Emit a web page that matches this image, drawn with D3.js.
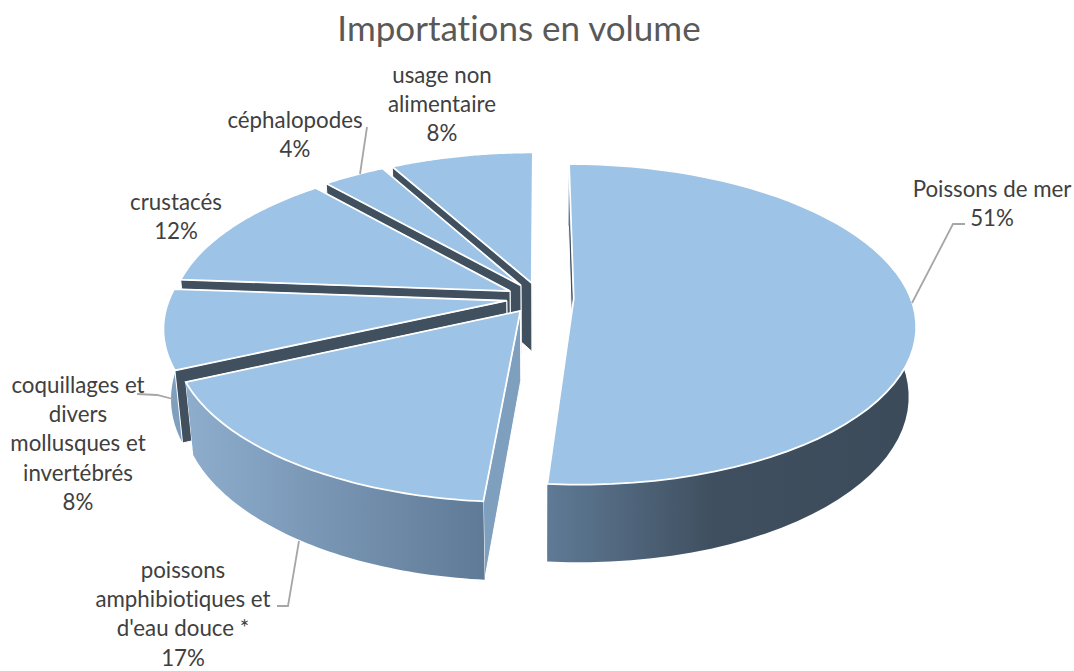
<!DOCTYPE html>
<html>
<head>
<meta charset="utf-8">
<script src="https://cdn.jsdelivr.net/npm/d3@7"></script>
<style>
  html, body { margin: 0; padding: 0; background: #fff; }
  text { font-family: Lato, "Noto Sans", sans-serif; font-variant-ligatures: none; }
</style>
</head>
<body>
<div id="chart"></div>
<script>
// data (slice sizes slightly finer than the rounded labels)
var categories = ["Poissons de mer", "poissons amphibiotiques et d'eau douce *", "coquillages et divers mollusques et invertébrés", "crustacés", "céphalopodes", "usage non alimentaire"];
var values = [51.3, 16.9, 8, 12.3, 3.5, 8];
var percentLabels = ["51%", "17%", "8%", "12%", "4%", "8%"];
var titleText = "Importations en volume";

// how each label wraps, as in the original
var labelLines = [
  ["Poissons de mer"],
  ["poissons", "amphibiotiques et", "d'eau douce *"],
  ["coquillages et", "divers", "mollusques et", "invertébrés"],
  ["crustacés"],
  ["céphalopodes"],
  ["usage non", "alimentaire"]
];

var width = 1074, height = 671;
var labelPos = [[992, 189], [183, 570], [78, 385], [176, 202], [295, 120], [442, 75]];
var lineHeight = 29.3;

// leader lines, slices without an entry have none
var leaders = [
  [[912, 303], [953, 224], [965, 224]],
  [[299, 541], [288, 606], [277, 606]],
  [[137, 394], [157, 395], [173, 399]],
  null,
  [[360, 174], [367, 127]],
  null
];

var wallDark = "#40505f", wallLight = "#7f9fbf", topColor = "#9dc3e6";
var explode = 0.1, persp = 0.16, shrink = 0.02, depth = 70.5;

var svg = d3.select("#chart").append("svg")
  .attr("width", width)
  .attr("height", height)
  .style("display", "block");

// disc coordinates to page coordinates
var x = d3.scaleLinear().domain([-1, 1]).range([540 - 337, 540 + 337]);
var y = d3.scaleLinear().domain([-1, 1]).range([298 + 156, 298 - 156]);

function project(u, v, h) {
  var s = 1 / (1 + persp * v + shrink * h);
  return [x(u * s), y(v * s) + depth * h * s];
}

var pie = d3.pie().sort(null);
var arcs = pie(values);
var line = d3.line();

function rim(d, h) {
  var mid = (d.startAngle + d.endAngle) / 2,
      ox = explode * Math.sin(mid), oy = explode * Math.cos(mid);
  return d3.range(0, 61).map(function (i) {
    var a = d.startAngle + (d.endAngle - d.startAngle) * i / 60;
    return project(ox + Math.sin(a), oy + Math.cos(a), h);
  });
}

function apex(d, h) {
  var mid = (d.startAngle + d.endAngle) / 2;
  return project(explode * Math.sin(mid), explode * Math.cos(mid), h);
}

function gradient(id, stops, x1, x2) {
  var g = svg.append("defs").append("linearGradient")
    .attr("id", id)
    .attr("gradientUnits", "userSpaceOnUse")
    .attr("x1", x1).attr("x2", x2).attr("y1", 0).attr("y2", 0);
  stops.forEach(function (s) {
    g.append("stop").attr("offset", s[0]).attr("stop-color", s[1]);
  });
}

gradient("wall0", [[0, "#5f7a96"], [0.45, "#3f4f5f"], [1, "#3c4b5a"]], 548, 915);
gradient("wall1", [[0, "#8eadcd"], [1, "#5f7a96"]], 187, 485);

// colour of the wall on the start side of each slice
var radialFill = [wallDark, wallLight, wallDark, wallDark, wallDark, wallDark];
var outerFill = ["url(#wall0)", "url(#wall1)", wallLight, wallLight, wallLight, wallLight];

// paint from the back of the pie to the front
var order = [5, 4, 3, 2, 1, 0];

order.forEach(function (i) {
  var d = arcs[i],
      g = svg.append("g"),
      top = rim(d, 0),
      bottom = rim(d, 1),
      a0 = apex(d, 0),
      a1 = apex(d, 1);

  function outerWall() {
    g.append("path")
      .attr("d", line(top.concat(bottom.slice().reverse())) + "Z")
      .attr("fill", outerFill[i]);
  }

  // the front slices need the curved wall over the radial ones, the others under
  if (i > 1) outerWall();

  g.append("path")
    .attr("d", line([a0, top[60], bottom[60], a1]) + "Z")
    .attr("fill", wallDark)
    .attr("stroke", "#fff").attr("stroke-width", 1);
  g.append("path")
    .attr("d", line([a0, top[0], bottom[0], a1]) + "Z")
    .attr("fill", radialFill[i])
    .attr("stroke", "#fff").attr("stroke-width", 1);

  if (i <= 1) outerWall();

  // top face
  g.append("path")
    .attr("d", line([a0].concat(top)) + "Z")
    .attr("fill", topColor)
    .attr("stroke", "#fff").attr("stroke-width", 1.8);
});

// leader lines
leaders.forEach(function (pts) {
  if (!pts) return;
  svg.append("path")
    .attr("d", line(pts))
    .attr("fill", "none")
    .attr("stroke", "#a6a6a6")
    .attr("stroke-width", 1.8);
});

// data labels
labelLines.forEach(function (lines, i) {
  var t = svg.append("text")
    .attr("text-anchor", "middle")
    .attr("fill", "#404040")
    .attr("font-size", 22.3);
  lines.concat([percentLabels[i]]).forEach(function (s, j) {
    t.append("tspan")
      .attr("x", labelPos[i][0])
      .attr("y", labelPos[i][1] + j * lineHeight)
      .attr("dy", "0.35em")
      .text(s);
  });
});

svg.append("text")
  .attr("x", 519)
  .attr("y", 41)
  .attr("text-anchor", "middle")
  .attr("fill", "#595959")
  .attr("font-size", 35)
  .text(titleText);
</script>
</body>
</html>
